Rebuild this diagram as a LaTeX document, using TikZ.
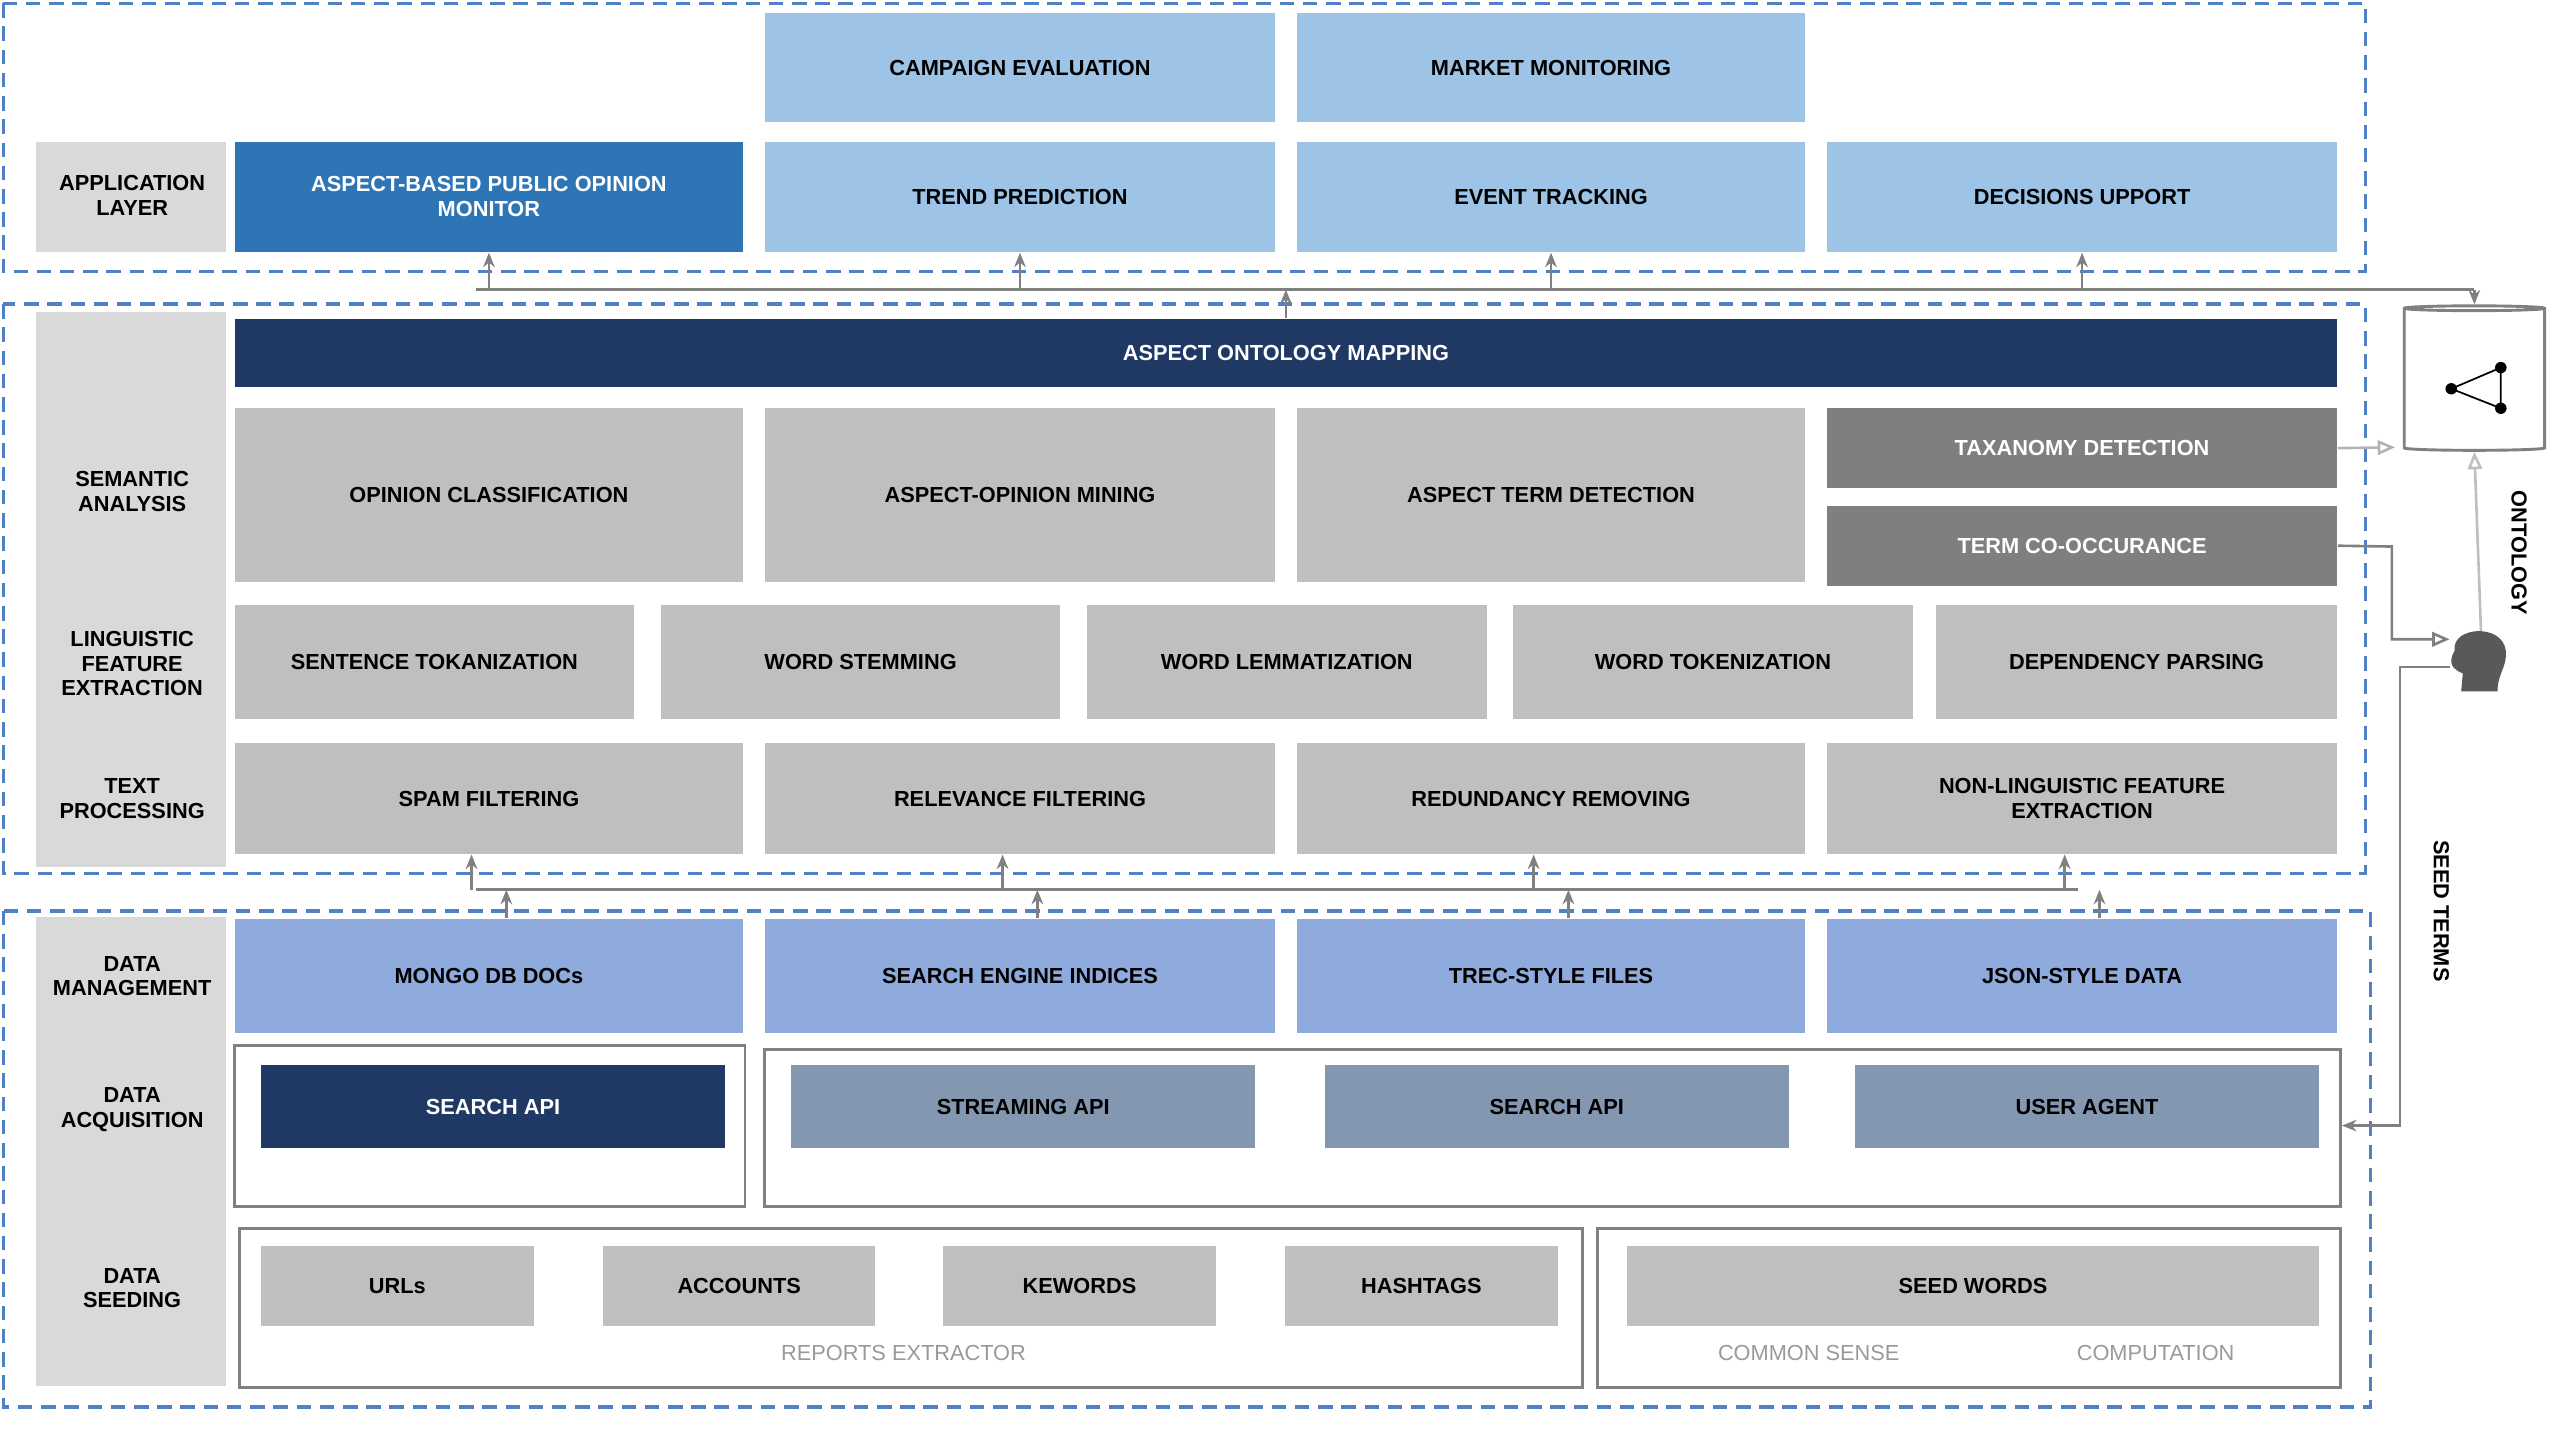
\documentclass[tikz,border=0pt]{standalone}
\usepackage{fontspec}
\setmainfont{Liberation Sans}
\usetikzlibrary{arrows.meta}
\usetikzlibrary{fit}
\usetikzlibrary{shapes.geometric}
\definecolor{applight}{HTML}{9DC3E6}
\definecolor{appdark}{HTML}{2E75B6}
\definecolor{navy}{HTML}{1F3864}
\definecolor{procgray}{HTML}{BFBFBF}
\definecolor{termgray}{HTML}{7F7F7F}
\definecolor{mgmtblue}{HTML}{8FAADC}
\definecolor{acqblue}{HTML}{8497B0}
\definecolor{stripgray}{HTML}{D9D9D9}
\definecolor{dashblue}{HTML}{4F81C7}
\definecolor{linkgray}{HTML}{808080}
\tikzset{
  blk/.style={inner sep=0pt, draw=none},
  txt/.style={font=\bfseries\fontsize{7.5}{8.5}\selectfont, align=center},
  layer/.style={draw=dashblue, line width=1.2pt, dash pattern=on 5pt off 3pt},
  frame/.style={draw=linkgray, line width=1pt},
  link/.style={draw=linkgray, line width=0.9pt},
  up/.style={link, -{Stealth[length=5pt,width=4pt]}},
}
\begin{document}
\begin{tikzpicture}[x=0.02cm, y=-0.0197cm]
  % box from corner to corner, text in the middle
  \newcommand{\layerblock}[7]{%
    \node[blk, fill=#6, fit={(#2,#3)(#4,#5)}] (#1) {};
    \node[txt, text=#7] at (#1.center) {#6};}
  \renewcommand{\layerblock}[8]{%
    \node[blk, fill=#6, fit={(#2,#3)(#4,#5)}] (#1) {};
    \node[txt, text=#7] at (#1.center) {#8};}
  \useasboundingbox (0,0) rectangle (1545,890);

  % layers
  \draw[layer] (2,2) rectangle (1432,167);
  \draw[layer] (2,187) rectangle (1432,537);
  \draw[layer] (2,560) rectangle (1435,865);
  \fill[stripgray] (22,87) rectangle (137,155);
  \fill[stripgray] (22,192) rectangle (137,533);
  \fill[stripgray] (22,564) rectangle (137,852);
  \node[txt] (lapp) at (80,120) {APPLICATION\\LAYER};
  \node[txt] (lsem) at (80,302) {SEMANTIC\\ANALYSIS};
  \node[txt] (lling) at (80,408) {LINGUISTIC\\FEATURE\\EXTRACTION};
  \node[txt] (ltext) at (80,491) {TEXT\\PROCESSING};
  \node[txt] (lmgmt) at (80,600) {DATA\\MANAGEMENT};
  \node[txt] (lacq) at (80,682) {DATA\\ACQUISITION};
  \node[txt] (lseed) at (80,792) {DATA\\SEEDING};

  % application layer
  \layerblock{campaign}{463}{8}{772}{75}{applight}{black}{CAMPAIGN EVALUATION}
  \layerblock{market}{785}{8}{1093}{75}{applight}{black}{MARKET MONITORING}
  \layerblock{monitor}{142}{87}{450}{155}{appdark}{white}{ASPECT-BASED PUBLIC OPINION\\MONITOR}
  \layerblock{trend}{463}{87}{772}{155}{applight}{black}{TREND PREDICTION}
  \layerblock{event}{785}{87}{1093}{155}{applight}{black}{EVENT TRACKING}
  \layerblock{decision}{1106}{87}{1415}{155}{applight}{black}{DECISIONS UPPORT}

  % semantic analysis
  \layerblock{mapping}{142}{196}{1415}{238}{navy}{white}{ASPECT ONTOLOGY MAPPING}
  \layerblock{opinion}{142}{251}{450}{358}{procgray}{black}{OPINION CLASSIFICATION}
  \layerblock{aomining}{463}{251}{772}{358}{procgray}{black}{ASPECT-OPINION MINING}
  \layerblock{termdet}{785}{251}{1093}{358}{procgray}{black}{ASPECT TERM DETECTION}
  \layerblock{taxonomy}{1106}{251}{1415}{300}{termgray}{white}{TAXANOMY DETECTION}
  \layerblock{cooc}{1106}{311}{1415}{360}{termgray}{white}{TERM CO-OCCURANCE}

  % linguistic features
  \layerblock{sentok}{142}{372}{384}{442}{procgray}{black}{SENTENCE TOKANIZATION}
  \layerblock{stem}{400}{372}{642}{442}{procgray}{black}{WORD STEMMING}
  \layerblock{lemma}{658}{372}{900}{442}{procgray}{black}{WORD LEMMATIZATION}
  \layerblock{wordtok}{916}{372}{1158}{442}{procgray}{black}{WORD TOKENIZATION}
  \layerblock{deppars}{1172}{372}{1415}{442}{procgray}{black}{DEPENDENCY PARSING}

  % text processing
  \layerblock{spam}{142}{457}{450}{525}{procgray}{black}{SPAM FILTERING}
  \layerblock{relevance}{463}{457}{772}{525}{procgray}{black}{RELEVANCE FILTERING}
  \layerblock{redundancy}{785}{457}{1093}{525}{procgray}{black}{REDUNDANCY REMOVING}
  \layerblock{nonling}{1106}{457}{1415}{525}{procgray}{black}{NON-LINGUISTIC FEATURE\\EXTRACTION}

  % data management
  \layerblock{mongo}{142}{565}{450}{635}{mgmtblue}{black}{MONGO DB DOCs}
  \layerblock{indices}{463}{565}{772}{635}{mgmtblue}{black}{SEARCH ENGINE INDICES}
  \layerblock{trec}{785}{565}{1093}{635}{mgmtblue}{black}{TREC-STYLE FILES}
  \layerblock{json}{1106}{565}{1415}{635}{mgmtblue}{black}{JSON-STYLE DATA}

  % data acquisition
  \node[frame, inner sep=0pt, fit={(142,643)(451,742)}] (acqa) {};
  \node[frame, inner sep=0pt, fit={(463,645)(1417,742)}] (acqb) {};
  \layerblock{searcha}{158}{655}{439}{706}{navy}{white}{SEARCH API}
  \layerblock{stream}{479}{655}{760}{706}{acqblue}{black}{STREAMING API}
  \layerblock{searchb}{802}{655}{1083}{706}{acqblue}{black}{SEARCH API}
  \layerblock{agent}{1123}{655}{1404}{706}{acqblue}{black}{USER AGENT}

  % data seeding
  \node[frame, inner sep=0pt, fit={(145,755)(958,853)}] (seeda) {};
  \node[frame, inner sep=0pt, fit={(967,755)(1417,853)}] (seedb) {};
  \layerblock{urls}{158}{766}{323}{815}{procgray}{black}{URLs}
  \layerblock{accounts}{365}{766}{530}{815}{procgray}{black}{ACCOUNTS}
  \layerblock{keywords}{571}{766}{736}{815}{procgray}{black}{KEWORDS}
  \layerblock{hashtags}{778}{766}{943}{815}{procgray}{black}{HASHTAGS}
  \layerblock{seedwords}{985}{766}{1404}{815}{procgray}{black}{SEED WORDS}
  \node[txt, text=procgray!80!black, font=\fontsize{7.5}{8.5}\selectfont] (reports) at (547,832) {REPORTS EXTRACTOR};
  \node[txt, text=procgray!80!black, font=\fontsize{7.5}{8.5}\selectfont] (common) at (1095,832) {COMMON SENSE};
  \node[txt, text=procgray!80!black, font=\fontsize{7.5}{8.5}\selectfont] (compute) at (1305,832) {COMPUTATION};

  % ontology store and expert
  \node[cylinder, shape border rotate=90, aspect=0.25, draw=linkgray, line width=1pt,
        fill=white, minimum width=1.7cm, minimum height=1.75cm] (ontology) at (1498,234) {};
  \coordinate (na) at (1484,239);
  \coordinate (nb) at (1514,226);
  \coordinate (nc) at (1514,251);
  \draw[line width=0.6pt] (nb) -- (na) -- (nc) -- (nb);
  \foreach \n in {na,nb,nc} \fill (\n) circle (3.5);
  \node[inner sep=0pt, minimum size=0.7cm] (expert) at (1502,406) {};
  \fill[black!65] (1490,425) -- (1491,414) .. controls (1481,410) and (1484,404) .. (1486,400)
    .. controls (1484,385) and (1515,383) .. (1517,400)
    .. controls (1518,410) and (1512,414) .. (1512,425) -- cycle;
  \node[txt, rotate=-90] (ontlabel) at (1525,340) {ONTOLOGY};
  \node[txt, rotate=-90] (seedlabel) at (1478,560) {SEED TERMS};

  % connectors
  \coordinate (topbus) at (288,178);
  \draw[link] (topbus) -- (1498,178);
  \foreach \b in {monitor,trend,event,decision}
    \draw[up] (topbus -| \b.south) -- (\b.south);
  \draw[up] (mapping.north) -- (mapping.north |- topbus);
  \draw[up] (1498,178) -- (ontology.top);
  \coordinate (midbus) at (288,547);
  \draw[link] (midbus) -- (1258,547);
  \foreach \b in {spam,relevance,redundancy,nonling}
    \draw[up] ([xshift=-6pt]midbus -| \b.south) -- ([xshift=-6pt]\b.south);
  \foreach \b in {mongo,indices,trec,json}
    \draw[up] ([xshift=6pt]\b.north) -- ([xshift=6pt]midbus -| \b.north);
  \draw[link, -{Triangle[open,length=6pt,width=5pt]}, draw=linkgray!60] (taxonomy.east) -- (1450,275);
  \draw[link, -{Triangle[open,length=6pt,width=5pt]}] (cooc.east) -- (1448,336) |- (1483,393);
  \draw[link, draw=linkgray!50, -{Triangle[open,length=6pt,width=5pt]}] (expert.north) -- (ontology.bottom);
  \draw[link, -{Stealth[length=5pt,width=4pt]}] (1483,410) -- (1453,410) |- (acqb.east |- 0,692);
\end{tikzpicture}
\end{document}
